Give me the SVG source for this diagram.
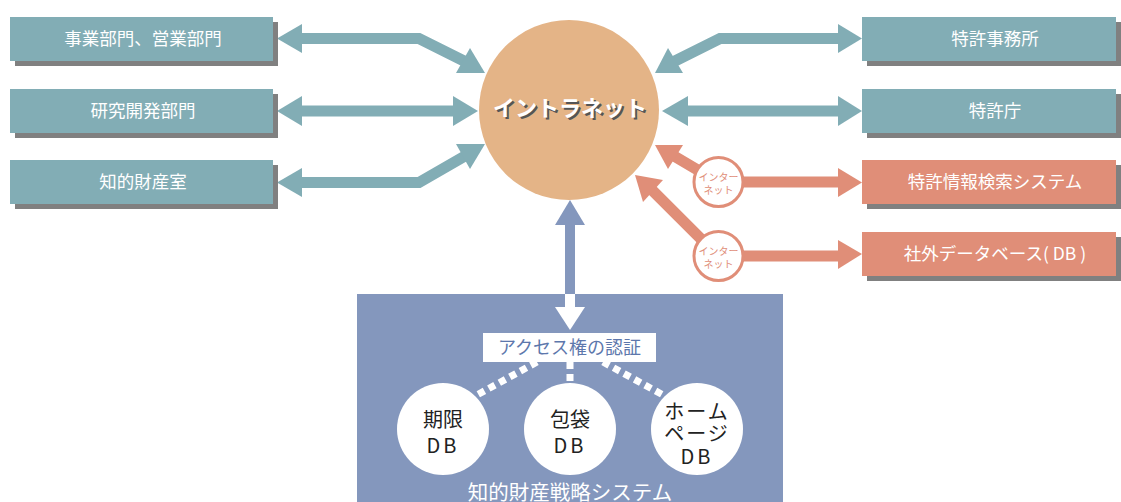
<svg xmlns="http://www.w3.org/2000/svg" width="1121" height="502" viewBox="0 0 1121 502">
<style>
.teal{fill:#82adb5}
.sal{fill:#e08e78}
.shadow{fill:#808080}
.lbl{font-family:"Noto Sans CJK JP","Noto Sans CJK SC",sans-serif;font-size:17.5px;fill:#ffffff;text-anchor:middle}
.tshaft{fill:none;stroke:#82adb5;stroke-width:11;stroke-linejoin:miter}
.sshaft{fill:none;stroke:#e08e78;stroke-width:11}
.inet{fill:#ffffff;stroke:#e08e78;stroke-width:3}
.itxt{font-family:"Noto Sans CJK JP",sans-serif;font-size:10px;fill:#e08e78;text-anchor:middle}
.db{fill:#ffffff}
.dbt{font-family:"Noto Sans CJK JP","Noto Sans CJK SC",sans-serif;font-size:20px;fill:#222222;text-anchor:middle}
.dot{stroke:#ffffff;stroke-width:7;stroke-dasharray:7 5;fill:none}
</style>

<g id="connectors">
  <path class="tshaft" d="M300,38.5 H419 L465,61.5"/>
  <polygon class="teal" points="277,38.5 302,24 302,53"/>
  <polygon class="teal" points="485,73 456,73 470,48"/>
  <path class="tshaft" d="M300,111 H455"/>
  <polygon class="teal" points="277,111 302,96 302,126"/>
  <polygon class="teal" points="478,111 453,96 453,126"/>
  <path class="tshaft" d="M300,182.5 H419 L465,156"/>
  <polygon class="teal" points="277,182.5 302,168 302,197"/>
  <polygon class="teal" points="485,144 456,144 470,169"/>
  <path class="tshaft" d="M840,38.5 H720 L674,61.5"/>
  <polygon class="teal" points="862,38.5 838,24 838,53"/>
  <polygon class="teal" points="655,73 683,73 668,48"/>
  <path class="tshaft" d="M686,111 H840"/>
  <polygon class="teal" points="662,111 688,96 688,126"/>
  <polygon class="teal" points="862,111 838,96 838,126"/>
  <path class="sshaft" d="M674,156 L718,182 H840"/>
  <polygon class="sal" points="655,145 683,145 668,169"/>
  <polygon class="sal" points="862,182.5 838,168 838,197"/>
  <path class="sshaft" d="M651,189 L718,256 H840"/>
  <polygon class="sal" points="635,175 663,180 643,202"/>
  <polygon class="sal" points="862,254 838,240 838,269"/>
  <rect x="565" y="222" width="10" height="74" fill="#8497bd"/>
  <polygon points="570,200 555,225 585,225" fill="#8497bd"/>
</g>

<g id="internet1">
  <circle class="inet" cx="718.5" cy="182" r="24.5"/>
  <text class="itxt" x="718.5" y="180.5">インター</text>
  <text class="itxt" x="718.5" y="194">ネット</text>
</g>
<g id="internet2">
  <circle class="inet" cx="718.5" cy="256" r="24.5"/>
  <text class="itxt" x="718.5" y="254.5">インター</text>
  <text class="itxt" x="718.5" y="268">ネット</text>
</g>

<g id="intranet">
  <circle cx="569" cy="110" r="90" fill="#e4b487"/>
  <text x="572" y="118" font-family="'Noto Sans CJK JP',sans-serif" font-size="22" font-weight="bold" fill="#555555" text-anchor="middle">イントラネット</text>
  <text x="570" y="116" font-family="'Noto Sans CJK JP',sans-serif" font-size="22" font-weight="bold" fill="#ffffff" text-anchor="middle">イントラネット</text>
</g>

<g id="box-jigyo">
  <rect class="shadow" x="15" y="22" width="263" height="44"/>
  <rect class="teal" x="10" y="17" width="263" height="44"/>
  <text class="lbl" x="143" y="45">事業部門、営業部門</text>
</g>
<g id="box-kenkyu">
  <rect class="shadow" x="15" y="94" width="263" height="44"/>
  <rect class="teal" x="10" y="89" width="263" height="44"/>
  <text class="lbl" x="143" y="117">研究開発部門</text>
</g>
<g id="box-chiteki">
  <rect class="shadow" x="15" y="165" width="263" height="44"/>
  <rect class="teal" x="10" y="160" width="263" height="44"/>
  <text class="lbl" x="143" y="188">知的財産室</text>
</g>
<g id="box-jimusho">
  <rect class="shadow" x="867" y="22" width="254" height="44"/>
  <rect class="teal" x="862" y="17" width="254" height="44"/>
  <text class="lbl" x="995" y="45">特許事務所</text>
</g>
<g id="box-tokkyocho">
  <rect class="shadow" x="867" y="94" width="254" height="44"/>
  <rect class="teal" x="862" y="89" width="254" height="44"/>
  <text class="lbl" x="995" y="117">特許庁</text>
</g>
<g id="box-kensaku">
  <rect class="shadow" x="867" y="165" width="254" height="44"/>
  <rect class="sal" x="862" y="160" width="254" height="44"/>
  <text class="lbl" x="995" y="188">特許情報検索システム</text>
</g>
<g id="box-gaibu">
  <rect class="shadow" x="867" y="237" width="254" height="44"/>
  <rect class="sal" x="862" y="232" width="254" height="44"/>
  <text class="lbl" x="995" y="260">社外データベース( DB )</text>
</g>

<g id="system">
  <rect x="357" y="294" width="426" height="210" fill="#8497bd"/>
  <rect x="565" y="294" width="10" height="14" fill="#ffffff"/>
  <polygon points="555,307 585,307 570,330" fill="#ffffff"/>
  <path class="dot" d="M537,362 L477,395"/>
  <path class="dot" d="M570,362 V384"/>
  <path class="dot" d="M603,362 L663,395"/>
  <text x="570" y="500" font-family="'Noto Sans CJK JP',sans-serif" font-size="20.5" fill="#ffffff" text-anchor="middle">知的財産戦略システム</text>
</g>
<g id="auth">
  <rect x="483" y="333" width="173" height="29" fill="#ffffff"/>
  <text x="569.5" y="354" font-family="'Noto Sans CJK JP',sans-serif" font-size="18" fill="#5d77ac" text-anchor="middle">アクセス権の認証</text>
</g>
<g id="db-kigen">
  <circle class="db" cx="443" cy="429" r="46"/>
  <text class="dbt" x="443" y="427">期限</text>
  <text class="dbt" x="443" y="453" letter-spacing="3">DB</text>
</g>
<g id="db-hotai">
  <circle class="db" cx="570" cy="429" r="46"/>
  <text class="dbt" x="570" y="427">包袋</text>
  <text class="dbt" x="570" y="453" letter-spacing="3">DB</text>
</g>
<g id="db-home">
  <circle class="db" cx="697" cy="429" r="46"/>
  <text class="dbt" x="697" y="419" letter-spacing="2">ホーム</text>
  <text class="dbt" x="697" y="441" letter-spacing="2">ページ</text>
  <text class="dbt" x="697" y="464" letter-spacing="3">DB</text>
</g>
</svg>
